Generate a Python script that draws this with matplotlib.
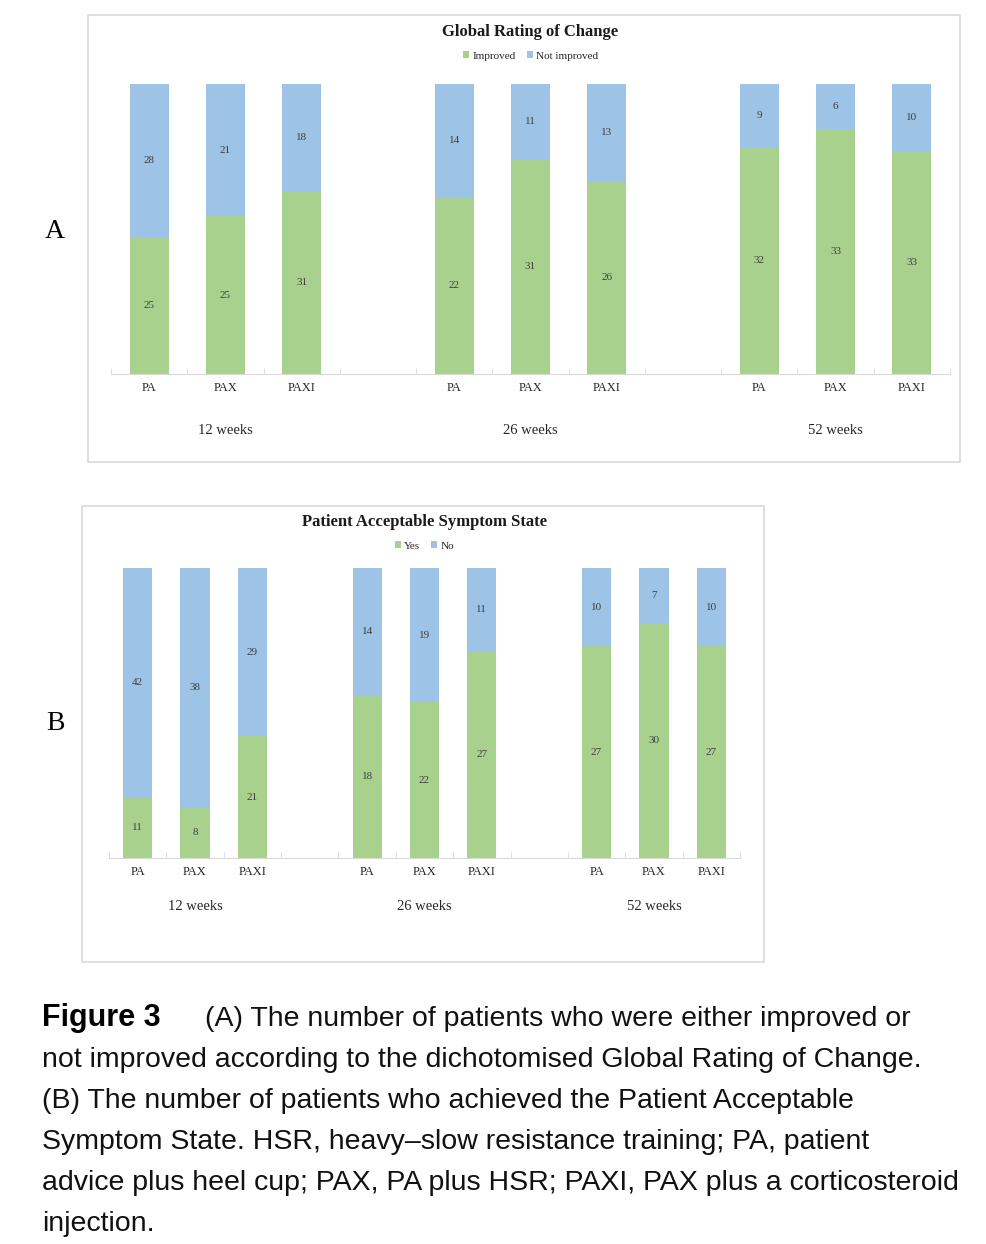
import numpy as np
import matplotlib.pyplot as plt
from matplotlib.patches import Rectangle
from matplotlib.transforms import blended_transform_factory

# data
groups = ['12 weeks', '26 weeks', '52 weeks']
arms = ['PA', 'PAX', 'PAXI']

grc_improved = [25, 25, 31, 22, 31, 26, 32, 33, 33]
grc_not_improved = [28, 21, 18, 14, 11, 13, 9, 6, 10]

pass_yes = [11, 8, 21, 18, 22, 27, 27, 30, 27]
pass_no = [42, 38, 29, 14, 19, 11, 10, 7, 10]

caption_first = '(A) The number of patients who were either improved or'
caption = [
    'not improved according to the dichotomised Global Rating of Change.',
    '(B) The number of patients who achieved the Patient Acceptable',
    'Symptom State. HSR, heavy\u2013slow resistance training; PA, patient',
    'advice plus heel cup; PAX, PA plus HSR; PAXI, PAX plus a corticosteroid',
    'injection.',
]

green = '#a9d18e'
blue = '#9dc3e6'
grey = '#d9d9d9'
serif = 'Liberation Serif'
W, H = 986, 1244

fig = plt.figure(figsize=(W / 100, H / 100), dpi=100)


def fy(y):
    return 1 - y / H


def frame(x0, y0, x1, y1):
    fig.patches.append(Rectangle((x0 / W, fy(y1)), (x1 - x0) / W, (y1 - y0) / H,
                                 transform=fig.transFigure, fill=False,
                                 ec=grey, lw=1.2))


def panel(box, bottom_vals, top_vals, names, title, title_y, group_y):
    l, t, r, b = box
    ax = fig.add_axes([l / W, fy(b), (r - l) / W, (b - t) / H])
    x = np.array([g * 4 + a for g in range(3) for a in range(3)])
    lo = np.array(bottom_vals, float)
    hi = np.array(top_vals, float)
    tot = lo + hi
    p_lo = lo / tot
    p_hi = hi / tot
    ax.bar(x, p_lo, width=0.51, color=green, label=names[0])
    ax.bar(x, p_hi, width=0.51, bottom=p_lo, color=blue, label=names[1])
    for xi, a, b2, va, vb in zip(x, p_lo, p_hi, lo, hi):
        ax.text(xi, a / 2, '%d' % va, ha='center', va='center',
                fontsize=8, color='#404040', family=serif)
        ax.text(xi, a + b2 / 2, '%d' % vb, ha='center', va='center',
                fontsize=8, color='#404040', family=serif)
    ax.set_xlim(-0.5, 10.5)
    ax.set_ylim(0, 1)
    ax.set_yticks([])
    for s in ['top', 'left', 'right']:
        ax.spines[s].set_visible(False)
    ax.spines['bottom'].set_color(grey)
    ax.set_xticks(x)
    ax.set_xticklabels(arms * 3, fontsize=9, family=serif, color='#262626')
    ax.set_xticks(np.arange(-0.5, 11, 1), minor=True)
    ax.tick_params(axis='x', which='major', length=0, pad=5.5)
    ax.tick_params(axis='x', which='minor', direction='in', length=4,
                   color=grey)
    tr = blended_transform_factory(ax.transData, fig.transFigure)
    for g, name in enumerate(groups):
        ax.text(g * 4 + 1, fy(group_y), name, transform=tr, ha='center',
                va='center', fontsize=10.5, family=serif, color='#262626')
    cx = (l + r) / 2
    fig.text(cx / W, fy(title_y), title, ha='center', va='center',
             fontsize=12, fontweight='bold', family=serif, color='#1a1a1a')
    leg = ax.legend(loc='center', bbox_to_anchor=(cx / W, fy(title_y + 24)),
                    bbox_transform=fig.transFigure, ncol=2, frameon=False,
                    handlelength=0.55, handleheight=0.55, handletextpad=0.25,
                    columnspacing=1.0, prop={'family': serif, 'size': 8})
    for txt in leg.get_texts():
        txt.set_color('#262626')
    return ax


frame(88, 15, 960, 462)
panel((111, 84, 950, 374), grc_improved, grc_not_improved,
      ['Improved', 'Not improved'], 'Global Rating of Change', 32, 430)
fig.text(55 / W, fy(232), 'A', ha='center', va='center', fontsize=20,
         family=serif)

frame(82, 506, 764, 962)
panel((109, 568, 740, 858), pass_yes, pass_no, ['Yes', 'No'],
      'Patient Acceptable Symptom State', 522, 907)
fig.text(55 / W, fy(723), 'B', ha='center', va='center', fontsize=20,
         family=serif)

# caption: fit the font size so the lines span roughly like the reference
cap_font = ['Liberation Sans', 'DejaVu Sans']
renderer = fig.canvas.get_renderer()
probe = fig.text(0, 0, caption[0], fontsize=20, family=cap_font)
w = probe.get_window_extent(renderer).width
probe.remove()
cap_size = 20 * 876 / w

fig.text(42 / W, fy(1026), 'Figure 3', ha='left', va='baseline',
         fontsize=cap_size + 1.5, fontweight='bold', family=cap_font)
fig.text(205 / W, fy(1026), caption_first, ha='left', va='baseline',
         fontsize=cap_size, family=cap_font, color='#111111')
for i, line in enumerate(caption):
    fig.text(42 / W, fy(1067 + 41 * i), line, ha='left', va='baseline',
             fontsize=cap_size, family=cap_font, color='#111111')

fig.savefig('out.png', dpi=100)
